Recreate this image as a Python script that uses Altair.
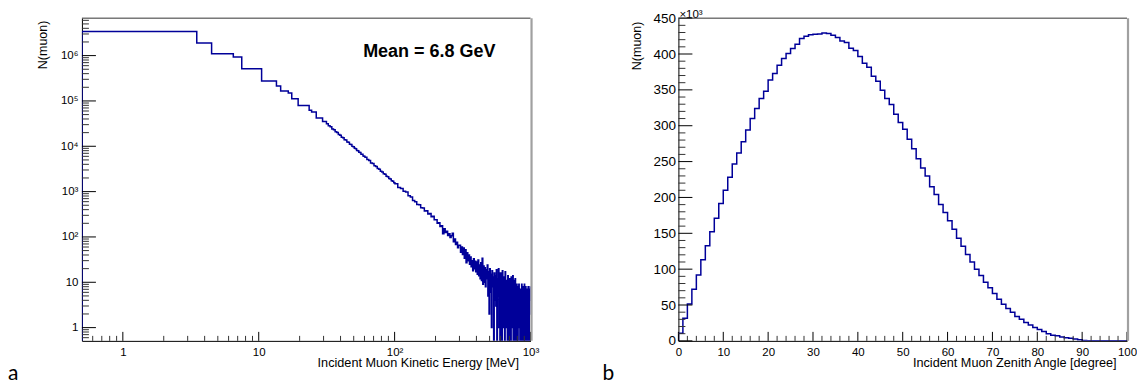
import altair as alt
import pandas as pd

# ---------------- data ----------------
# Left: incident muon kinetic energy histogram (counts per 1 MeV bin)
coarse_edges = [0.5, 3.5, 4.5, 6.5, 7.5, 10.5, 13.5, 14.5, 16.5, 17.5, 19.5, 23.5, 24.5, 26.5, 29.5, 31.5]
coarse_counts = [3.4e6, 1.9e6, 1.1e6, 9.3e5, 5.1e5, 2.75e5, 2.14e5, 1.66e5, 1.5e5, 1.12e5,
                 7.9e4, 6.2e4, 5.7e4, 4.2e4, 3.5e4]
# 1 MeV bins from 31.5 to 60.5
fine1_start, fine1_width = 31.5, 1
fine1_counts = [31500, 28200, 26900, 24100, 23100, 20800, 20200, 18100, 17600, 15900,
                15500, 14000, 13700, 12400, 12200, 11100, 10900, 9950, 9800, 9000,
                8850, 8100, 8000, 7350, 7250, 6700, 6650, 6100, 6050]
# read every 2 MeV from 60.5 to 100.5
fine2_start, fine2_width = 60.5, 2
fine2_counts = [5700, 5080, 4830, 4300, 4150, 3700, 3580, 3230, 3110, 2810,
                2720, 2470, 2400, 2180, 2140, 1940, 1900, 1740, 1700, 1560]
# read every 5 MeV from 100.5 to 1000.5 (noisy tail)
noisy_start, noisy_width = 100.5, 5
noisy_counts = [
    1490, 1230, 1170, 1020, 975, 810, 760, 640, 600, 520,
    510, 440, 435, 375, 378, 322, 330, 280, 285, 238,
    240, 200, 205, 170, 176, 118, 152, 126, 134, 108,
    117, 97, 106, 120, 78, 90, 68, 76, 58, 66,
    66, 46, 60, 41, 57, 34, 52, 27, 45, 30,
    40, 25, 36, 22, 30, 18, 33, 20, 29, 17,
    28, 15, 31, 14, 24, 12, 27, 11, 34, 9,
    23, 10, 21, 8, 19, 12, 24, 5, 17, 2,
    20, 6, 15, 1, 18, 8, 13, 0, 16, 4,
    14, 3, 19, 0, 12, 5, 20, 1, 11, 0,
    16, 2, 12, 0, 18, 4, 13, 1, 10, 0,
    17, 1, 11, 3, 9, 0, 14, 2, 8, 0,
    12, 2, 7, 0, 13, 4, 9, 1, 14, 0,
    11, 1, 8, 0, 12, 3, 6, 0, 9, 2,
    8, 0, 6, 2, 9, 1, 5, 0, 7, 3,
    7, 0, 9, 1, 5, 0, 8, 2, 6, 0,
    9, 1, 6, 0, 8, 2, 5, 0, 7, 1,
    6, 0, 8, 1, 5, 0, 7, 2, 4, 8,
]
energy_end = 1000.5
mean_label = ["Mean = 6.8 GeV"]
mean_pos_E = [180]
mean_pos_N = [1.2e6]

energy_major = [1, 10, 100, 1000]
energy_labels = ["1", "10", "10²", "10³"]
count_major = [1, 10, 100, 1e3, 1e4, 1e5, 1e6]
count_labels = ["1", "10", "10²", "10³", "10⁴", "10⁵", "10⁶"]

# Right: incident muon zenith angle histogram (1 degree bins, in units of 10^3)
angle_edges_start, angle_width = 0, 1
angle_counts = [
    10.5, 31.5, 51.5, 72, 92, 113, 132.7, 152, 171, 191.7,
    210, 228, 246.5, 262, 277.6, 293.9, 310, 324, 338, 348,
    363.6, 372.8, 384.5, 393.7, 400.7, 407.6, 413.7, 421.5, 424.8, 427,
    427.6, 428, 429.4, 428.5, 426, 423, 418, 416, 408, 405,
    396.5, 387, 381.5, 369, 362, 349.6, 338, 329.6, 316, 304.5,
    295, 281, 268, 254, 241, 230, 215, 204, 190, 179,
    167.6, 155.5, 143, 132, 120.6, 110, 100, 91, 81.6, 74,
    66, 58, 51, 45, 40, 34, 30, 25.5, 22, 18.5,
    15.7, 13, 10, 8, 7, 5.5, 4.5, 3.5, 2.5, 1.5,
    0.6, 0.3, 0.1, 0, 0, 0, 0, 0, 0, 0,
]
angle_major = list(range(0, 101, 10))
angle_minor = [a for a in range(0, 101, 2) if a % 10]
n_major = list(range(0, 451, 50))
n_minor = [v for v in range(0, 451, 10) if v % 50]

# ---------------- styling ----------------
W, H = 449, 323
LINE = "#000099"
FONT = "Liberation Sans"
YMIN, YMAX = 0.51, 6.7e6
TITLE_SIZE = 12.7

# ---------------- build tables ----------------
rows = [(0.5, YMIN)]
for e, c in zip(coarse_edges[:-1], coarse_counts):
    rows.append((e, c))
for i, c in enumerate(fine1_counts):
    rows.append((fine1_start + fine1_width * i, c))
for i, c in enumerate(fine2_counts):
    rows.append((fine2_start + fine2_width * i, c))
for i, c in enumerate(noisy_counts):
    rows.append((noisy_start + noisy_width * i, c))
rows.append((energy_end, noisy_counts[-1]))
edf = pd.DataFrame(rows, columns=["E", "N"])
edf["N"] = edf["N"].clip(lower=YMIN)
edf["i"] = range(len(edf))

arows = [(0, 0)]
for i, c in enumerate(angle_counts):
    arows.append((angle_edges_start + angle_width * i, c))
arows.append((100, angle_counts[-1]))
adf = pd.DataFrame(arows, columns=["A", "N"])
adf["i"] = range(len(adf))

e_minor = [0.6, 0.7, 0.8, 0.9] + [k * 10 ** d for d in range(0, 3) for k in range(2, 10)]
n_log_minor = [0.6, 0.7, 0.8, 0.9] + [k * 10 ** d for d in range(0, 7) for k in range(2, 10) if k * 10 ** d < YMAX]


def label_expr(values, labels):
    parts = " : ".join(
        f"abs(datum.value - {v}) < {v} * 0.01 ? '{l}'" for v, l in zip(values, labels)
    )
    return parts + " : ''"


def frame_layers():
    top = alt.Chart(pd.DataFrame({"k": [0]})).mark_rule(color="#333333", strokeWidth=1).encode(
        x=alt.value(0), x2=alt.value(W), y=alt.value(0)
    )
    right = alt.Chart(pd.DataFrame({"k": [0]})).mark_rule(color="#a0a0a0", strokeWidth=2.2).encode(
        x=alt.value(W + 1), y=alt.value(0), y2=alt.value(H)
    )
    return [top, right]


# ---------------- left panel ----------------
xs_l = alt.Scale(type="log", domain=[0.5, energy_end], nice=False)
ys_l = alt.Scale(type="log", domain=[YMIN, YMAX], nice=False)

x_axis_l = alt.Axis(
    values=energy_major, labelExpr=label_expr(energy_major, energy_labels), ticks=False, grid=False,
    domainColor="black", domainWidth=1, labelFont=FONT, labelFontSize=11.5, labelColor="black",
    labelPadding=6, labelFlush=False, labelOverlap=False, labelSeparation=0,
    title="Incident Muon Kinetic Energy [MeV]", titleFont=FONT, titleFontSize=TITLE_SIZE,
    titleFontWeight="normal",
    titleColor="black", titleAlign="right", titleAnchor="end", titleX=W - 12, titleY=26,
    titleBaseline="alphabetic",
)
y_axis_l = alt.Axis(
    values=count_major, labelExpr=label_expr(count_major, count_labels), ticks=False, grid=False,
    domainColor="black", domainWidth=1, labelFont=FONT, labelFontSize=11.5, labelColor="black",
    labelPadding=4, labelOverlap=False, labelSeparation=0,
    title="N(muon)", titleFont=FONT, titleFontSize=12.5, titleFontWeight="normal", titleColor="black",
    titleAlign="right", titleAnchor="end", titleAngle=270, titleX=-35.5, titleY=2, titleBaseline="alphabetic",
)

hist_l = alt.Chart(edf).mark_line(interpolate="step-after", color=LINE, strokeWidth=1.5, clip=True).encode(
    x=alt.X("E:Q", scale=xs_l, axis=x_axis_l),
    y=alt.Y("N:Q", scale=ys_l, axis=y_axis_l),
    order=alt.Order("i:Q"),
)
xt_major_l = alt.Chart(pd.DataFrame({"E": energy_major})).mark_rule(color="black").encode(
    x=alt.X("E:Q", scale=xs_l, axis=x_axis_l), y=alt.value(H), y2=alt.value(H - 9)
)
xt_minor_l = alt.Chart(pd.DataFrame({"E": e_minor})).mark_rule(color="#333333").encode(
    x=alt.X("E:Q", scale=xs_l, axis=x_axis_l), y=alt.value(H), y2=alt.value(H - 5)
)
yt_major_l = alt.Chart(pd.DataFrame({"N": count_major})).mark_rule(color="black").encode(
    y=alt.Y("N:Q", scale=ys_l, axis=y_axis_l), x=alt.value(0), x2=alt.value(14)
)
yt_minor_l = alt.Chart(pd.DataFrame({"N": n_log_minor})).mark_rule(color="#333333").encode(
    y=alt.Y("N:Q", scale=ys_l, axis=y_axis_l), x=alt.value(0), x2=alt.value(7)
)
mean_txt = alt.Chart(pd.DataFrame({"E": mean_pos_E, "N": mean_pos_N, "t": mean_label})).mark_text(
    font=FONT, fontSize=18, fontWeight="bold", align="center", baseline="middle", color="black"
).encode(x=alt.X("E:Q", scale=xs_l, axis=x_axis_l), y=alt.Y("N:Q", scale=ys_l, axis=y_axis_l), text="t:N")
tag_a = alt.Chart(pd.DataFrame({"t": ["a"]})).mark_text(
    font="Lato", fontSize=21, align="left", baseline="alphabetic", color="black"
).encode(x=alt.value(-74), y=alt.value(362), text="t:N")

left = alt.layer(
    hist_l, xt_minor_l, xt_major_l, yt_minor_l, yt_major_l, mean_txt, tag_a, *frame_layers()
).properties(width=W, height=H)

# ---------------- right panel ----------------
xs_r = alt.Scale(domain=[0, 100], nice=False, zero=False)
ys_r = alt.Scale(domain=[0, 450], nice=False)

x_axis_r = alt.Axis(
    values=angle_major, ticks=False, grid=False, domainColor="black", domainWidth=1,
    labelFont=FONT, labelFontSize=11.5, labelColor="black", labelPadding=6, labelFlush=False,
    labelOverlap=False, labelSeparation=0,
    title="Incident Muon Zenith Angle [degree]", titleFont=FONT, titleFontSize=TITLE_SIZE,
    titleFontWeight="normal",
    titleColor="black", titleAlign="right", titleAnchor="end", titleX=W - 11, titleY=26,
    titleBaseline="alphabetic",
)
y_axis_r = alt.Axis(
    values=n_major, ticks=False, grid=False, domainColor="black", domainWidth=1,
    labelFont=FONT, labelFontSize=13.5, labelColor="black", labelPadding=3, labelOverlap=False,
    labelSeparation=0, labelFlush=False,
    title="N(muon)", titleFont=FONT, titleFontSize=12.5, titleFontWeight="normal", titleColor="black",
    titleAlign="right", titleAnchor="end", titleAngle=270, titleX=-38, titleY=3, titleBaseline="alphabetic",
)
hist_r = alt.Chart(adf).mark_line(interpolate="step-after", color=LINE, strokeWidth=1.5, clip=True).encode(
    x=alt.X("A:Q", scale=xs_r, axis=x_axis_r),
    y=alt.Y("N:Q", scale=ys_r, axis=y_axis_r),
    order=alt.Order("i:Q"),
)
xt_major_r = alt.Chart(pd.DataFrame({"A": angle_major})).mark_rule(color="black").encode(
    x=alt.X("A:Q", scale=xs_r, axis=x_axis_r), y=alt.value(H), y2=alt.value(H - 9)
)
xt_minor_r = alt.Chart(pd.DataFrame({"A": angle_minor})).mark_rule(color="#333333").encode(
    x=alt.X("A:Q", scale=xs_r, axis=x_axis_r), y=alt.value(H), y2=alt.value(H - 5)
)
yt_major_r = alt.Chart(pd.DataFrame({"N": n_major})).mark_rule(color="black").encode(
    y=alt.Y("N:Q", scale=ys_r, axis=y_axis_r), x=alt.value(0), x2=alt.value(14)
)
yt_minor_r = alt.Chart(pd.DataFrame({"N": n_minor})).mark_rule(color="#333333").encode(
    y=alt.Y("N:Q", scale=ys_r, axis=y_axis_r), x=alt.value(0), x2=alt.value(7)
)
exp_txt = alt.Chart(pd.DataFrame({"t": ["×10³"]})).mark_text(
    font=FONT, fontSize=11.5, align="left", baseline="alphabetic", color="black"
).encode(x=alt.value(1), y=alt.value(-0.5), text="t:N")
tag_b = alt.Chart(pd.DataFrame({"t": ["b"]})).mark_text(
    font="Lato", fontSize=21, align="left", baseline="alphabetic", color="black"
).encode(x=alt.value(-76), y=alt.value(362), text="t:N")

right = alt.layer(
    hist_r, xt_minor_r, xt_major_r, yt_minor_r, yt_major_r, exp_txt, tag_b, *frame_layers()
).properties(width=W, height=H)

chart = alt.hconcat(left, right, spacing=63).properties(padding=0).configure_view(stroke=None)

chart.save("out.html", embed_options={"renderer": "svg", "actions": False})
